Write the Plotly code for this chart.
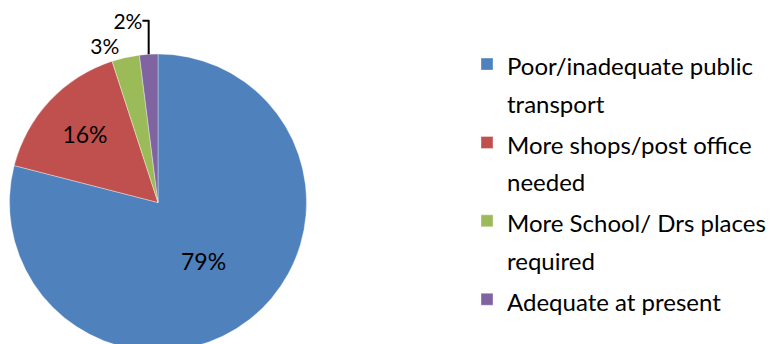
import plotly.graph_objects as go

labels = [
    "Poor/inadequate public<br>transport",
    "More shops/post office<br>needed",
    "More School/ Drs places<br>required",
    "Adequate at present",
]
values = [79, 16, 3, 2]
colors = ["#4F81BD", "#C0504D", "#9BBB59", "#8064A2"]
text_positions = ["inside", "inside", "outside", "outside"]


def legend_name(s, px=24):
    return "<br>".join(f"<span style='font-size:{px}px'>{part}</span>" for part in s.split("<br>"))


W, H = 774, 344
fig = go.Figure(
    go.Pie(
        labels=[legend_name(s) for s in labels],
        values=values,
        sort=False,
        direction="clockwise",
        rotation=0,
        textinfo="percent",
        textposition=text_positions,
        insidetextorientation="horizontal",
        insidetextfont=dict(family="Lato", size=23, color="black"),
        outsidetextfont=dict(family="Lato", size=21, color="black"),
        marker=dict(colors=colors, line=dict(color="rgba(255,255,255,0.6)", width=0.6)),
        domain=dict(x=[1.5 / W, 298.5 / W], y=[0, 1 - 45 / H]),
        hoverinfo="percent",
    )
)
fig.update_layout(
    width=W,
    height=H,
    margin=dict(l=0, r=0, t=0, b=0, autoexpand=False),
    paper_bgcolor="white",
    plot_bgcolor="white",
    font=dict(family="Lato", size=24, color="black"),
    legend=dict(
        x=459 / W,
        y=0.495,
        xanchor="left",
        yanchor="middle",
        valign="top",
        itemwidth=30,
        font=dict(family="Lato", size=29, color="black"),
        bgcolor="rgba(0,0,0,0)",
    ),
    showlegend=True,
)
fig.write_html("out.html")
